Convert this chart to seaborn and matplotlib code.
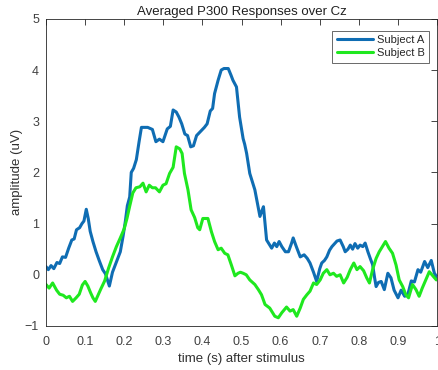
import numpy as np
import pandas as pd
import matplotlib
matplotlib.use("Agg")
import matplotlib.pyplot as plt
import seaborn as sns

title = "Averaged P300 Responses over Cz"
xlabel = "time (s) after stimulus"
ylabel = "amplitude (uV)"
series_names = ["Subject A", "Subject B"]
xticks = [0, 0.1, 0.2, 0.3, 0.4, 0.5, 0.6, 0.7, 0.8, 0.9, 1]
xtick_labels = ["0", "0.1", "0.2", "0.3", "0.4", "0.5", "0.6", "0.7", "0.8", "0.9", "1"]
yticks = [-1, 0, 1, 2, 3, 4, 5]

t_a = [0.000, 0.006, 0.013, 0.020, 0.028, 0.035, 0.042, 0.050, 0.058, 0.066, 0.072, 0.078,
       0.086, 0.092, 0.097, 0.103, 0.108, 0.113, 0.120, 0.128, 0.136, 0.145, 0.152, 0.157,
       0.162, 0.170, 0.180, 0.190, 0.197, 0.203, 0.208, 0.214, 0.218, 0.224, 0.231, 0.238,
       0.244, 0.260, 0.272, 0.281, 0.290, 0.299, 0.310, 0.318, 0.325, 0.333, 0.340, 0.347,
       0.355, 0.362, 0.370, 0.377, 0.385, 0.395, 0.405, 0.412, 0.420, 0.426, 0.431, 0.440,
       0.448, 0.455, 0.466, 0.473, 0.478, 0.487, 0.495, 0.504, 0.508, 0.513, 0.521, 0.534,
       0.543, 0.547, 0.552, 0.556, 0.560, 0.564, 0.572, 0.577, 0.584, 0.590, 0.596, 0.603,
       0.612, 0.620, 0.628, 0.632, 0.640, 0.650, 0.660, 0.668, 0.675, 0.684, 0.692, 0.700,
       0.705, 0.712, 0.718, 0.725, 0.731, 0.744, 0.752, 0.760, 0.765, 0.772, 0.778, 0.784,
       0.790, 0.797, 0.803, 0.810, 0.816, 0.823, 0.830, 0.835, 0.840, 0.844, 0.850, 0.857,
       0.865, 0.874, 0.882, 0.890, 0.900, 0.908, 0.917, 0.925, 0.934, 0.942, 0.951, 0.958,
       0.968, 0.976, 0.985, 0.993, 1.000]
v_a = [0.16, 0.10, 0.18, 0.12, 0.24, 0.22, 0.35, 0.34, 0.52, 0.68, 0.70, 0.88,
       0.92, 1.00, 1.05, 1.28, 1.10, 0.85, 0.65, 0.45, 0.28, 0.10, 0.02, -0.10,
       -0.22, 0.05, 0.25, 0.45, 0.75, 1.05, 1.35, 1.52, 2.00, 2.08, 2.25, 2.60,
       2.88, 2.88, 2.84, 2.60, 2.65, 2.60, 2.85, 2.90, 3.22, 3.18, 3.08, 2.95,
       2.75, 2.72, 2.50, 2.52, 2.72, 2.80, 2.88, 2.95, 3.20, 3.25, 3.54, 3.80,
       4.00, 4.03, 4.03, 3.90, 3.80, 3.67, 3.08, 2.66, 2.55, 2.37, 1.98, 1.66,
       1.30, 1.14, 1.25, 1.33, 1.00, 0.68, 0.58, 0.52, 0.62, 0.55, 0.65, 0.55,
       0.45, 0.45, 0.62, 0.72, 0.55, 0.35, 0.39, 0.32, 0.23, 0.05, -0.13, 0.12,
       0.23, 0.28, 0.35, 0.48, 0.55, 0.66, 0.68, 0.55, 0.45, 0.50, 0.58, 0.50,
       0.61, 0.52, 0.58, 0.55, 0.62, 0.45, 0.30, 0.20, -0.05, -0.23, -0.15, -0.13,
       -0.29, 0.03, -0.06, -0.30, -0.45, -0.30, -0.42, -0.39, -0.12, -0.14, 0.10, 0.05,
       0.26, 0.14, 0.28, 0.03, -0.05]

t_b = [0.000, 0.008, 0.017, 0.027, 0.035, 0.044, 0.052, 0.060, 0.068, 0.077, 0.085, 0.093,
       0.100, 0.107, 0.114, 0.120, 0.126, 0.133, 0.140, 0.150, 0.160, 0.170, 0.180, 0.190,
       0.200, 0.207, 0.214, 0.222, 0.230, 0.240, 0.248, 0.256, 0.264, 0.272, 0.280, 0.290,
       0.299, 0.307, 0.316, 0.325, 0.333, 0.342, 0.348, 0.354, 0.363, 0.371, 0.380, 0.388,
       0.393, 0.401, 0.414, 0.423, 0.431, 0.440, 0.448, 0.457, 0.465, 0.474, 0.483, 0.491,
       0.497, 0.504, 0.512, 0.521, 0.534, 0.543, 0.551, 0.560, 0.572, 0.585, 0.594, 0.603,
       0.615, 0.624, 0.632, 0.641, 0.650, 0.658, 0.667, 0.675, 0.684, 0.692, 0.701, 0.709,
       0.718, 0.726, 0.735, 0.743, 0.752, 0.761, 0.770, 0.778, 0.787, 0.795, 0.803, 0.812,
       0.820, 0.827, 0.835, 0.844, 0.852, 0.860, 0.868, 0.877, 0.886, 0.895, 0.903, 0.912,
       0.920, 0.927, 0.937, 0.946, 0.954, 0.962, 0.971, 0.980, 0.989, 0.998]
v_b = [-0.19, -0.26, -0.16, -0.30, -0.38, -0.40, -0.45, -0.42, -0.52, -0.45, -0.38, -0.20,
       -0.13, -0.22, -0.35, -0.45, -0.52, -0.40, -0.28, -0.12, 0.13, 0.35, 0.55, 0.72,
       0.90, 1.10, 1.34, 1.60, 1.70, 1.72, 1.79, 1.62, 1.75, 1.70, 1.70, 1.62,
       1.75, 1.78, 1.98, 2.10, 2.50, 2.46, 2.37, 1.98, 1.66, 1.27, 1.12, 0.92,
       0.88, 1.10, 1.10, 0.84, 0.65, 0.49, 0.52, 0.42, 0.39, 0.19, -0.02, 0.03,
       0.05, 0.03, 0.00, -0.10, -0.19, -0.29, -0.39, -0.58, -0.65, -0.81, -0.84, -0.74,
       -0.63, -0.71, -0.68, -0.81, -0.65, -0.48, -0.39, -0.32, -0.16, -0.19, -0.10, 0.03,
       0.10, 0.00, 0.03, -0.03, 0.00, -0.16, -0.05, 0.10, 0.23, 0.10, 0.16, 0.08,
       -0.06, -0.16, 0.10, 0.32, 0.45, 0.55, 0.65, 0.52, 0.42, 0.19, -0.10, -0.23,
       -0.39, -0.45, -0.19, -0.29, -0.42, -0.26, -0.10, 0.06, -0.02, -0.10]

colors = ["#0F6DB3", "#1FE81F"]

df = pd.concat([
    pd.DataFrame({"t": t_a, "v": v_a, "s": series_names[0]}),
    pd.DataFrame({"t": t_b, "v": v_b, "s": series_names[1]}),
], ignore_index=True)

sns.set_theme(style="white")
plt.rcParams["font.family"] = ["Liberation Sans", "DejaVu Sans"]

fig = plt.figure(figsize=(4.38, 3.70), dpi=100)
ax = fig.add_axes([0.105, 0.119, 0.893, 0.830])

sns.lineplot(data=df, x="t", y="v", hue="s", palette=colors, sort=False,
             estimator=None, linewidth=2.2, ax=ax)

ax.set_xlim(0, 1)
ax.set_ylim(-1, 5)
ax.set_xticks(xticks)
ax.set_xticklabels(xtick_labels)
ax.set_yticks(yticks)
axcol = "#262626"
for s in ax.spines.values():
    s.set_visible(True)
    s.set_color(axcol)
    s.set_linewidth(0.6)
ax.tick_params(axis="both", direction="in", length=4, width=0.6, colors=axcol,
               labelsize=9, top=True, right=True, labelcolor="#404040", pad=5)
ax.tick_params(axis="x", pad=7)
ax.set_title(title, fontsize=9.5, color="#202020", pad=3)
ax.set_xlabel(xlabel, fontsize=9.5, color="#303030", labelpad=4)
ax.set_ylabel(ylabel, fontsize=9.5, color="#303030", labelpad=1)

leg = ax.legend(loc="upper right", bbox_to_anchor=(0.9795, 0.961), borderaxespad=0,
                fontsize=8, frameon=True, fancybox=False,
                handlelength=3.3, handletextpad=0.3, borderpad=0.4,
                labelspacing=0.25, edgecolor="#262626")
leg.get_frame().set_linewidth(0.6)

fig.savefig("out.png", dpi=100)
